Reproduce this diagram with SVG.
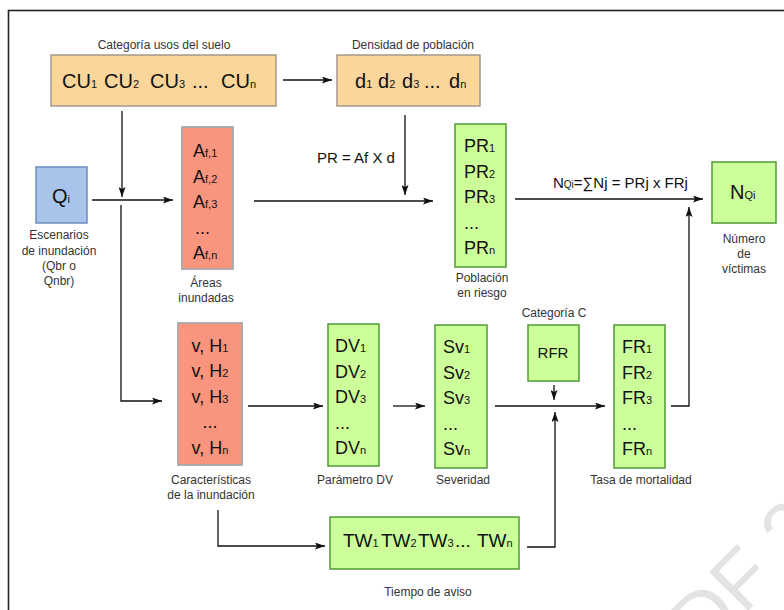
<svg xmlns="http://www.w3.org/2000/svg" width="784" height="610" viewBox="0 0 784 610">
<style>
text{font-family:"Liberation Sans",Arial,sans-serif}
.lbl{font-size:12px;fill:#333;text-anchor:middle}
.big{font-size:18px;fill:#111}
.xl{font-size:20px;fill:#111}
.f{font-size:15px;fill:#111}
.s{font-size:11px}
.or{fill:#FBD69B;stroke:#A3998A;stroke-width:1.5}
.sa{fill:#F9957F;stroke:#A8A8A8;stroke-width:1.8}
.gr{fill:#CCFF99;stroke:#4F9A34;stroke-width:1.5}
.bl{fill:#A9C4EB;stroke:#6C8EBF;stroke-width:1.5}
.c{fill:none;stroke:#111;stroke-width:1.3}
</style>
<defs>
<marker id="ah" markerUnits="userSpaceOnUse" markerWidth="10" markerHeight="7" refX="10" refY="3.5" orient="auto">
<path d="M0,0 L10,3.5 L0,7 L2,3.5 z" fill="#111"/>
</marker>
</defs>
<rect width="784" height="610" fill="#fff"/>
<text x="702.6" y="656.4" transform="rotate(-45 702.6 656.4)" font-size="80" fill="#E3E3E3">DF 2</text>
<rect x="8.5" y="10.5" width="800" height="620" fill="none" stroke="#222" stroke-width="1.6"/>

<g id="connectors">
<line class="c" x1="283" y1="80" x2="332" y2="80" marker-end="url(#ah)"/>
<line class="c" x1="122" y1="111" x2="122" y2="197" marker-end="url(#ah)"/>
<line class="c" x1="92" y1="200" x2="173" y2="200" marker-end="url(#ah)"/>
<polyline class="c" points="121,205 121,401 162,401" marker-end="url(#ah)"/>
<line class="c" x1="254" y1="201" x2="433" y2="201" marker-end="url(#ah)"/>
<line class="c" x1="405" y1="115" x2="405" y2="195" marker-end="url(#ah)"/>
<line class="c" x1="515" y1="199" x2="703" y2="199" marker-end="url(#ah)"/>
<polyline class="c" points="671,406 689,406 689,207" marker-end="url(#ah)"/>
<line class="c" x1="248" y1="406" x2="323" y2="406" marker-end="url(#ah)"/>
<line class="c" x1="393" y1="406" x2="425" y2="406" marker-end="url(#ah)"/>
<line class="c" x1="495" y1="406" x2="605" y2="406" marker-end="url(#ah)"/>
<line class="c" x1="554" y1="385" x2="554" y2="400" marker-end="url(#ah)"/>
<polyline class="c" points="527,547 555,547 555,412" marker-end="url(#ah)"/>
<polyline class="c" points="218,510 218,546 325,546" marker-end="url(#ah)"/>
<text class="f" x="317" y="163">PR = Af X d</text>
<text class="f" x="553" y="188">N<tspan font-size="10">Qi</tspan>=∑Nj = PRj x FRj</text>
</g>

<g id="cu">
<text class="lbl" x="164" y="49">Categoría usos del suelo</text>
<rect class="or" x="51" y="55" width="225" height="51"/>
<text class="xl" y="87.5"><tspan x="62">CU</tspan><tspan class="s">1</tspan><tspan x="104">CU</tspan><tspan class="s">2</tspan><tspan x="150">CU</tspan><tspan class="s">3</tspan><tspan x="192">...</tspan><tspan x="221">CU</tspan><tspan class="s">n</tspan></text>
</g>

<g id="densidad">
<text class="lbl" x="413" y="49">Densidad de población</text>
<rect class="or" x="337" y="55" width="143" height="51"/>
<text class="xl" y="87.5"><tspan x="355">d</tspan><tspan class="s">1</tspan><tspan x="378">d</tspan><tspan class="s">2</tspan><tspan x="402">d</tspan><tspan class="s">3</tspan><tspan x="424">...</tspan><tspan x="449">d</tspan><tspan class="s">n</tspan></text>
</g>

<g id="qi">
<rect class="bl" x="36" y="167" width="51" height="56"/>
<text class="xl" x="52" y="203">Q<tspan class="s">i</tspan></text>
<text class="lbl" x="59" y="239">Escenarios</text>
<text class="lbl" x="59" y="255">de inundación</text>
<text class="lbl" x="59" y="270">(Qbr o</text>
<text class="lbl" x="59" y="285">Qnbr)</text>
</g>

<g id="areas">
<rect class="sa" x="182" y="127" width="51" height="142"/>
<text class="big" x="193" y="157">A<tspan class="s">f,1</tspan></text>
<text class="big" x="193" y="182.5">A<tspan class="s">f,2</tspan></text>
<text class="big" x="193" y="208">A<tspan class="s">f,3</tspan></text>
<text class="big" x="195" y="233.5">...</text>
<text class="big" x="193" y="259">A<tspan class="s">f,n</tspan></text>
<text class="lbl" x="206" y="287">Áreas</text>
<text class="lbl" x="206" y="302">inundadas</text>
</g>

<g id="pr">
<rect class="gr" x="455" y="124" width="51" height="143"/>
<text class="big" x="464" y="152">PR<tspan class="s">1</tspan></text>
<text class="big" x="464" y="177.5">PR<tspan class="s">2</tspan></text>
<text class="big" x="464" y="203">PR<tspan class="s">3</tspan></text>
<text class="big" x="464" y="228.5">...</text>
<text class="big" x="464" y="254">PR<tspan class="s">n</tspan></text>
<text class="lbl" x="482" y="282">Población</text>
<text class="lbl" x="482" y="297">en riesgo</text>
</g>

<g id="nqi">
<rect class="gr" x="712" y="162" width="64" height="61"/>
<text class="xl" x="730" y="199">N<tspan class="s">Qi</tspan></text>
<text class="lbl" x="744" y="243">Número</text>
<text class="lbl" x="744" y="258">de</text>
<text class="lbl" x="744" y="273">víctimas</text>
</g>

<g id="vh">
<rect class="sa" x="178" y="323" width="64" height="142"/>
<text class="big" x="210" y="351.5" text-anchor="middle">v, H<tspan class="s">1</tspan></text>
<text class="big" x="210" y="377" text-anchor="middle">v, H<tspan class="s">2</tspan></text>
<text class="big" x="210" y="402.5" text-anchor="middle">v, H<tspan class="s">3</tspan></text>
<text class="big" x="210" y="428" text-anchor="middle">...</text>
<text class="big" x="210" y="453.5" text-anchor="middle">v, H<tspan class="s">n</tspan></text>
<text class="lbl" x="211" y="484">Características</text>
<text class="lbl" x="211" y="499">de la inundación</text>
</g>

<g id="dv">
<rect class="gr" x="328" y="324" width="51" height="142"/>
<text class="big" x="335" y="352">DV<tspan class="s">1</tspan></text>
<text class="big" x="335" y="377.5">DV<tspan class="s">2</tspan></text>
<text class="big" x="335" y="403">DV<tspan class="s">3</tspan></text>
<text class="big" x="335" y="428.5">...</text>
<text class="big" x="335" y="454">DV<tspan class="s">n</tspan></text>
<text class="lbl" x="355" y="484">Parámetro DV</text>
</g>

<g id="sv">
<rect class="gr" x="435" y="325" width="52" height="143"/>
<text class="big" x="443" y="353">Sv<tspan class="s">1</tspan></text>
<text class="big" x="443" y="378.5">Sv<tspan class="s">2</tspan></text>
<text class="big" x="443" y="404">Sv<tspan class="s">3</tspan></text>
<text class="big" x="443" y="429.5">...</text>
<text class="big" x="443" y="455">Sv<tspan class="s">n</tspan></text>
<text class="lbl" x="463" y="484">Severidad</text>
</g>

<g id="rfr">
<text class="lbl" x="554" y="317">Categoría C</text>
<rect class="gr" x="528" y="325" width="51" height="56"/>
<text x="553" y="358" font-size="15" fill="#111" text-anchor="middle">RFR</text>
</g>

<g id="fr">
<rect class="gr" x="614" y="325" width="51" height="143"/>
<text class="big" x="622" y="353">FR<tspan class="s">1</tspan></text>
<text class="big" x="622" y="378.5">FR<tspan class="s">2</tspan></text>
<text class="big" x="622" y="404">FR<tspan class="s">3</tspan></text>
<text class="big" x="622" y="429.5">...</text>
<text class="big" x="622" y="455">FR<tspan class="s">n</tspan></text>
<text class="lbl" x="641" y="484">Tasa de mortalidad</text>
</g>

<g id="tw">
<rect class="gr" x="330" y="517" width="189" height="52"/>
<text style="font-size:19px;fill:#111" y="547"><tspan x="343">TW</tspan><tspan class="s">1</tspan><tspan x="381">TW</tspan><tspan class="s">2</tspan><tspan x="418">TW</tspan><tspan class="s">3</tspan><tspan x="455">...</tspan><tspan x="477">TW</tspan><tspan class="s">n</tspan></text>
<text class="lbl" x="428" y="596">Tiempo de aviso</text>
</g>
</svg>
